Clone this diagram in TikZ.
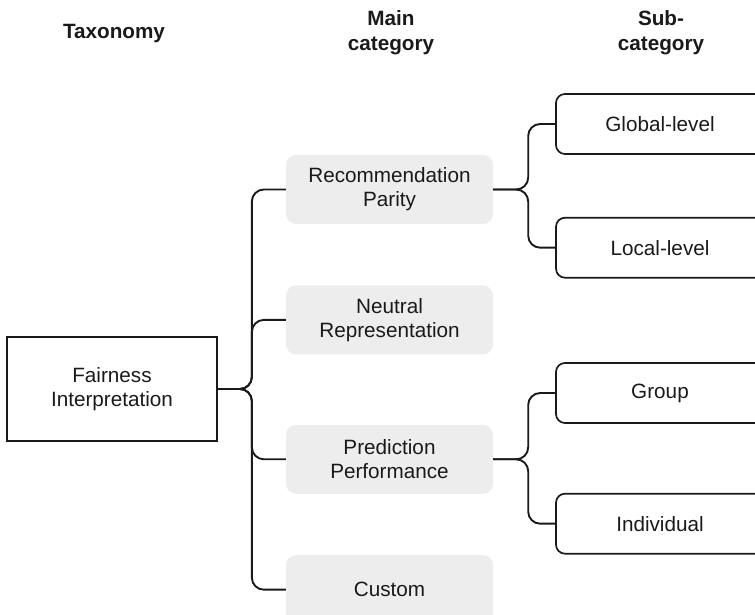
\documentclass[tikz,border=0pt]{standalone}
\usepackage{fontspec}
\setmainfont{Liberation Sans}
\usetikzlibrary{positioning}
\definecolor{boxgray}{HTML}{EDEDED}
\definecolor{ink}{HTML}{1A1A1A}

\begin{document}
\begin{tikzpicture}[
  x=1pt, y=1pt,
  node distance=61pt,
  every node/.style={font=\fontsize{20.7}{24}\selectfont, text=ink},
  colhead/.style={align=center, inner sep=0pt, font=\fontsize{20.7}{25}\selectfont\bfseries},
  rootbox/.style={draw=ink, line width=1.7pt, align=center,
                  minimum width=210pt, minimum height=104pt},
  maincat/.style={fill=boxgray, rounded corners=10pt, align=center,
                  minimum width=207pt, minimum height=69pt},
  subcat/.style={draw=ink, line width=1.7pt, rounded corners=9pt, align=center,
                 minimum width=208pt, minimum height=60pt},
  link/.style={draw=ink, line width=1.9pt, rounded corners=12pt}
]
\useasboundingbox (0,0) rectangle (755,615);
\clip (0,0) rectangle (755,615);

% column headings
\node[colhead] (hTax) at (114,581) {Taxonomy};
\node[colhead] (hMain) at (391,582) {Main\\category};
\node[colhead] (hSub) at (661,582) {Sub-\\category};

% taxonomy root
\node[rootbox] (fair) at (112,226) {Fairness\\Interpretation};

% main categories
\node[maincat] (recpar) at (389.5,425.5) {Recommendation\\Parity};
\node[maincat, below=of recpar] (neutral) {Neutral\\Representation};
\node[maincat, below=70pt of neutral] (predperf) {Prediction\\Performance};
\node[maincat, below=of predperf] (custom) {Custom};

% sub-categories
\node[subcat] (global) at (660,491) {Global-level};
\node[subcat, below=62pt of global] (local) {Local-level};
\node[subcat] (group) at (660,222) {Group};
\node[subcat, below=69pt of group] (indiv) {Individual};

% bracket connectors
\foreach \m in {recpar,neutral,predperf,custom}
  \draw[link] (fair.east) -- ++(34,0) |- (\m.west);
\foreach \s in {global,local}
  \draw[link] (recpar.east) -- ++(35,0) |- (\s.west);
\foreach \s in {group,indiv}
  \draw[link] (predperf.east) -- ++(35,0) |- (\s.west);
\end{tikzpicture}
\end{document}
